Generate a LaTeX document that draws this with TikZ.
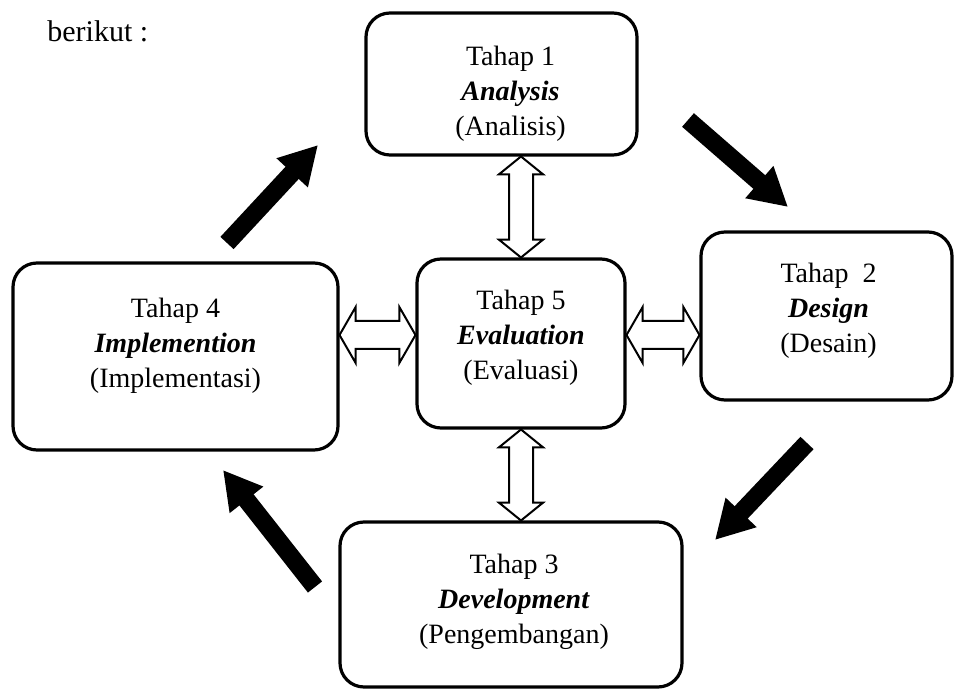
\documentclass[tikz,border=0pt]{standalone}
\usepackage{fontspec}
\setmainfont{Liberation Serif}
\usetikzlibrary{arrows.meta, shapes.arrows, calc}

\begin{document}
\begin{tikzpicture}[
    x=0.5pt, y=-0.5pt,
    >={Triangle[length=19pt, width=20pt]},
    tahap/.style={rectangle, draw, rounded corners=12pt, line width=1.6pt, inner sep=0pt},
    teks/.style={align=center, inner sep=0pt, font=\fontsize{14}{17.5}\selectfont},
    alur/.style={->, line width=9pt},
    dua/.style={double arrow, draw, fill=white, line width=1pt, inner xsep=0pt, rotate=#1},
    dua/.default=0
]

\useasboundingbox (0,0) rectangle (955,689);

% Boxes
\node[tahap, minimum width=135.5pt, minimum height=71pt] (1) at (501.5,84) {};
\node[tahap, minimum width=125.5pt, minimum height=84pt] (2) at (826.5,316) {};
\node[tahap, minimum width=171pt, minimum height=82.5pt] (3) at (511,604.5) {};
\node[tahap, minimum width=162.5pt, minimum height=93.5pt] (4) at (175.5,356.5) {};
\node[tahap, minimum width=104pt, minimum height=84.5pt] (5) at (521,343.5) {};

% Texts
\node[teks] (t1) at ($(1)+(9,10)$) {Tahap 1\\\textbf{\textit{Analysis}}\\(Analisis)};
\node[teks] (t2) at ($(2)+(2,-5)$) {Tahap\ \ 2\\\textbf{\textit{Design}}\\(Desain)};
\node[teks] (t3) at ($(3)+(3,-3)$) {Tahap 3\\\textbf{\textit{Development}}\\(Pengembangan)};
\node[teks] (t4) at ($(4)+(0,-11)$) {Tahap 4\\\textbf{\textit{Implemention}}\\(Implementasi)};
\node[teks] (t5) at ($(5)+(0,-6)$) {Tahap 5\\\textbf{\textit{Evaluation}}\\(Evaluasi)};

% Double arrows
\node[dua=90, minimum height=50.5pt, inner ysep=5.5pt, double arrow head extend=5pt, double arrow tip angle=102] (d15) at (521,207) {};
\node[dua=90, minimum height=45.5pt, inner ysep=5.5pt, double arrow head extend=5pt, double arrow tip angle=102] (d53) at (521,475) {};
\node[dua, minimum height=38pt, inner ysep=6.5pt, double arrow head extend=7pt, double arrow tip angle=120] (d45) at (377.5,335) {};
\node[dua, minimum height=36.5pt, inner ysep=6.5pt, double arrow head extend=7pt, double arrow tip angle=120] (d52) at (663,335) {};

% Cycle arrows
\coordinate (a1s) at (227,243);
\coordinate (a1e) at (318,145);
\coordinate (a2s) at (688,120);
\coordinate (a2e) at (788,207);
\coordinate (a3s) at (807,443);
\coordinate (a3e) at (715,540);
\coordinate (a4s) at (315,587);
\coordinate (a4e) at (223,470);

\draw[alur] (a1s) -- (a1e);
\draw[alur] (a2s) -- (a2e);
\draw[alur] (a3s) -- (a3e);
\draw[alur] (a4s) -- (a4e);

% Labels
\node[anchor=base west, inner sep=0pt, font=\fontsize{15}{18}\selectfont] (ket) at (47,42) {berikut :};

\end{tikzpicture}
\end{document}
